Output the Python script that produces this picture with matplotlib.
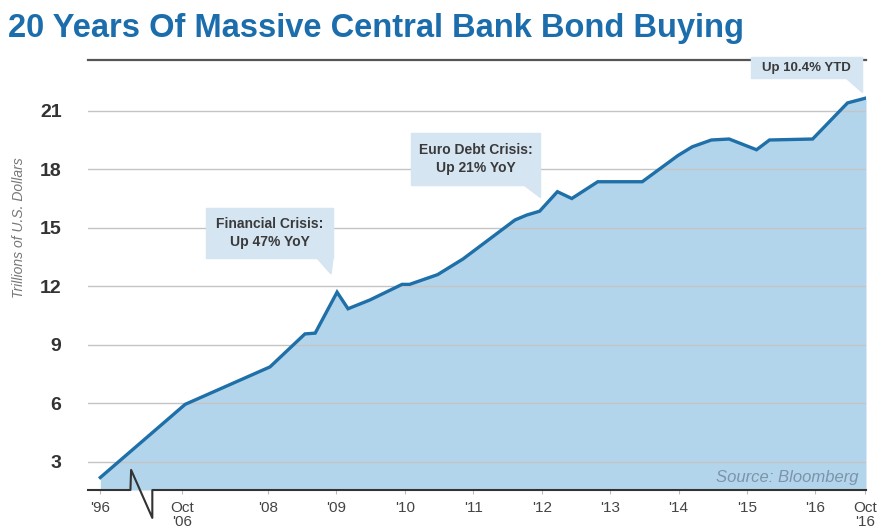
import matplotlib
matplotlib.use("Agg")
import matplotlib.pyplot as plt
from matplotlib.patches import Rectangle, Polygon
from matplotlib.lines import Line2D
import numpy as np

# ---- data (decimal years, trillions of USD) ----
years = [1996.0, 2006.79, 2008.03, 2008.54, 2008.69, 2009.01, 2009.17, 2009.49,
         2009.96, 2010.07, 2010.48, 2010.85, 2011.61, 2011.78, 2011.97, 2012.23,
         2012.44, 2012.82, 2013.47, 2013.99, 2014.20, 2014.48, 2014.74, 2015.14,
         2015.33, 2015.96, 2016.47, 2016.74]
values = [2.2, 5.95, 7.87, 9.56, 9.6, 11.7, 10.85, 11.3,
          12.1, 12.1, 12.6, 13.4, 15.4, 15.65, 15.85, 16.85,
          16.5, 17.36, 17.36, 18.7, 19.15, 19.5, 19.55, 19.0,
          19.5, 19.55, 21.4, 21.65]
tick_years = [1996.0, 2006.75, 2008, 2009, 2010, 2011, 2012, 2013, 2014, 2015, 2016, 2016.72]
tick_labels = ["'96", "Oct\n'06", "'08", "'09", "'10", "'11", "'12", "'13", "'14", "'15", "'16", "Oct\n'16"]
y_ticks = [3, 6, 9, 12, 15, 18, 21]
annotations = ["Financial Crisis:\nUp 47% YoY", "Euro Debt Crisis:\nUp 21% YoY", "Up 10.4% YTD"]

# broken axis: compress the 1996 - Oct 2006 stretch
BREAK = 2006.75
def pos(y):
    y = np.asarray(y, dtype=float)
    return np.where(y >= BREAK, y, BREAK - (BREAK - y) * (1.2 / (BREAK - 1996.0)))

W, H = 878, 531
fig = plt.figure(figsize=(W / 100, H / 100), dpi=100)
def fx(x): return x / W
def fy(y): return 1 - y / H

fam = ["Liberation Sans", "DejaVu Sans"]

ax = fig.add_axes([fx(88), fy(490), fx(866) - fx(88), fy(60) - fy(490)])
xmin, xmax = 2005.37, 2016.74
ymin, ymax = 1.56, 23.6
ax.set_xlim(xmin, xmax)
ax.set_ylim(ymin, ymax)

fill_c = "#b3d5ec"
line_c = "#1f6fa8"
xp = pos(years)
ax.fill_between(xp, values, ymin, color=fill_c, lw=0, zorder=1)
for yt in y_ticks:
    ax.axhline(yt, color="#c4c4c4", lw=1.0, zorder=2)
ax.plot(xp, values, color=line_c, lw=2.4, solid_joinstyle="miter", zorder=3)

for s in ["left", "right", "bottom"]:
    ax.spines[s].set_visible(False)
ax.spines["top"].set_color("#555555")
ax.spines["top"].set_linewidth(1.6)

ax.set_yticks(y_ticks)
ax.set_yticklabels([str(v) for v in y_ticks], fontsize=14, fontweight="bold",
                   color="#333333", family=fam)
ax.tick_params(axis="y", length=0, pad=19)

ax.set_xticks(pos(tick_years))
ax.set_xticklabels(tick_labels, fontsize=11, color="#444444", family=fam,
                   va="top", linespacing=0.95)
ax.tick_params(axis="x", length=3, color="#bbbbbb", pad=5)

ax.set_ylabel("Trillions of U.S. Dollars", fontsize=10, style="italic",
              color="#777777", family=fam)
ax.yaxis.set_label_coords(-0.08, 0.61)

# baseline with axis-break zigzag
zx0, zx1 = 2005.99, 2006.31
base = Line2D([xmin, zx0, zx0 + 0.01, zx1, zx1, xmax],
              [ymin, ymin, 2.59, 0.13, ymin, ymin],
              color="#333333", lw=1.5, clip_on=False, zorder=4)
ax.add_line(base)

ax.text(0.99, 0.012, "Source: Bloomberg", transform=ax.transAxes, ha="right",
        va="bottom", fontsize=12, style="italic", color="#7d93aa", family=fam)

# annotation boxes (figure pixel layout)
box_c = "#d5e5f2"
def callout(x0, y0, x1, y1, tip, text, fs=10):
    fig.patches.append(Rectangle((fx(x0), fy(y1)), fx(x1) - fx(x0), fy(y0) - fy(y1),
                                 transform=fig.transFigure, color=box_c, zorder=5))
    tri = [(fx(x1 - 16), fy(y1)), (fx(x1), fy(y1)), (fx(tip[0]), fy(tip[1]))]
    fig.patches.append(Polygon(tri, closed=True, transform=fig.transFigure,
                               color=box_c, zorder=5))
    fig.text(fx((x0 + x1) / 2), fy((y0 + y1) / 2), text, ha="center", va="center",
             fontsize=fs, fontweight="bold", color="#3a3a3a", family=fam,
             linespacing=1.35, zorder=6)

callout(206, 208, 333, 258, (331, 274), annotations[0])
callout(411, 133, 540, 185, (540, 197), annotations[1])
callout(751, 57, 862, 78, (862, 92), annotations[2], fs=9.5)

fig.text(fx(8), fy(37), "20 Years Of Massive Central Bank Bond Buying",
         ha="left", va="baseline", fontsize=23.5, fontweight="bold",
         color="#1c6dac", family=fam)

fig.savefig("out.png", dpi=100, facecolor="white")
